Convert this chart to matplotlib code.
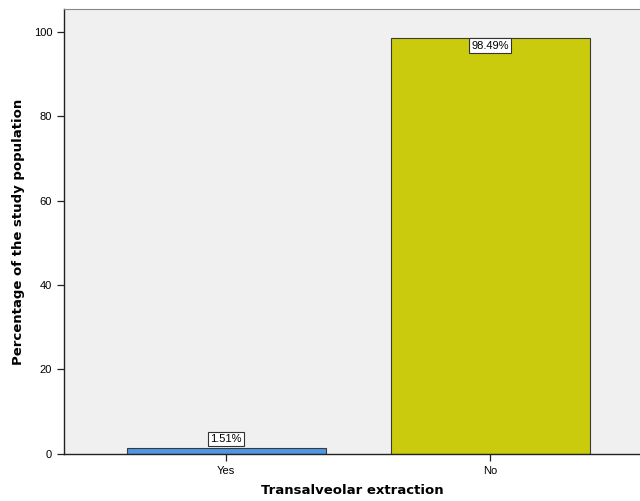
import matplotlib
matplotlib.use("Agg")
import matplotlib.pyplot as plt

categories = ["Yes", "No"]
percentages = [1.51, 98.49]
bar_colors = ["#4f96e3", "#cbcb0e"]

fig = plt.figure(figsize=(6.4, 5.01), dpi=100)
ax = fig.add_axes([0.1, 0.094, 0.9, 0.888])
ax.set_facecolor("#f0f0f0")

pos = list(range(len(categories)))
ax.bar(pos, percentages, width=0.754, color=bar_colors, edgecolor="#3a3a3a", linewidth=0.8, zorder=2)

# value labels in white boxes
for x, v in zip(pos, percentages):
    if v > 50:
        ax.text(x, v - 0.6, f"{v:.2f}%", ha="center", va="top", fontsize=8,
                family="Liberation Sans",
                bbox=dict(boxstyle="square,pad=0.2", fc="white", ec="#333333", lw=0.8), zorder=3)
    else:
        ax.text(x, v + 0.9, f"{v:.2f}%", ha="center", va="bottom", fontsize=8,
                family="Liberation Sans",
                bbox=dict(boxstyle="square,pad=0.2", fc="white", ec="#333333", lw=0.8), zorder=3)

ax.set_xlim(-0.614, 1.568)
ax.set_ylim(0, 105.4)
ax.set_xticks(pos)
ax.set_xticklabels(categories, family="Liberation Sans", fontsize=8)
ax.set_yticks([0, 20, 40, 60, 80, 100])
ax.set_yticklabels(["0", "20", "40", "60", "80", "100"], family="Liberation Sans", fontsize=8)
ax.tick_params(length=5, width=0.9, color="#222222")

for s in ["left", "bottom"]:
    ax.spines[s].set_color("#222222")
    ax.spines[s].set_linewidth(1.0)
ax.spines["top"].set_color("#888888")
ax.spines["right"].set_visible(False)

ax.set_ylabel("Percentage of the study population", fontsize=9.5, fontweight="bold", labelpad=6)
ax.set_xlabel("Transalveolar extraction", fontsize=9.5, fontweight="bold", labelpad=6)

fig.savefig("out.png", dpi=100)
